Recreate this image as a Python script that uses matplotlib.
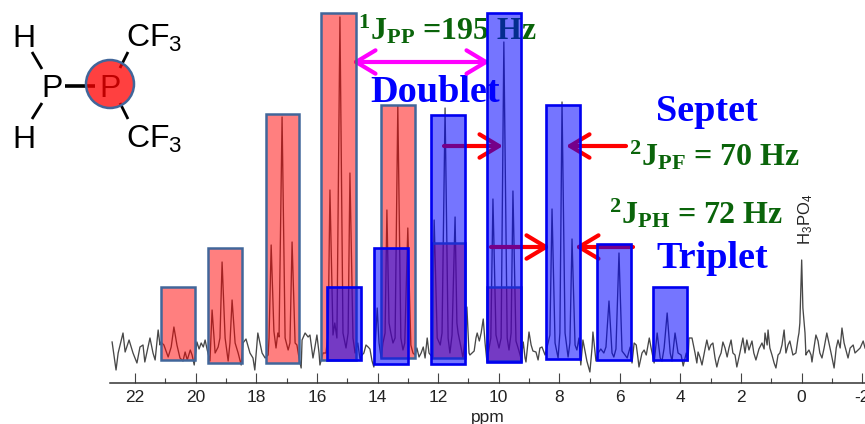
import matplotlib
matplotlib.use("Agg")
import matplotlib.pyplot as plt
from matplotlib.patches import Circle
from matplotlib.transforms import Affine2D
import numpy as np

plt.rcParams['font.family'] = 'Liberation Sans'
plt.rcParams['mathtext.fontset'] = 'custom'
plt.rcParams['mathtext.rm'] = 'Liberation Sans'
plt.rcParams['mathtext.bf'] = 'Liberation Serif:bold'
plt.rcParams['mathtext.default'] = 'rm'
plt.rcParams['axes.unicode_minus'] = False

# spectrum, shift in ppm, intensity above the axis line
shift = [22.76, 22.63, 22.56, 22.40, 22.33, 22.20, 22.07, 21.94, 21.84, 21.74, 21.68, 21.58, 21.51, 21.41, 21.34, 21.24, 21.18,
         21.15, 21.05, 20.91, 20.81, 20.72, 20.62, 20.52, 20.42, 20.35, 20.28, 20.18, 20.12, 20.05,
         19.96, 19.89, 19.82, 19.75, 19.69, 19.62,
         19.53, 19.46, 19.36, 19.26, 19.20, 19.13, 19.03, 18.93, 18.87, 18.80, 18.70, 18.60, 18.50,
         18.44, 18.34, 18.21, 18.11, 18.05, 17.95, 17.88, 17.81, 17.71,
         17.61, 17.58, 17.51, 17.42, 17.35, 17.29, 17.25, 17.15, 17.05, 16.95, 16.89, 16.82, 16.72, 16.66, 16.59, 16.52,
         16.49, 16.39, 16.29, 16.23, 16.13, 16.07, 16.00, 15.93, 15.90,
         15.80, 15.70, 15.63, 15.57, 15.47, 15.41, 15.34, 15.24, 15.14, 15.04, 14.97, 14.91, 14.81, 14.74, 14.65, 14.58, 14.51,
         14.45, 14.38, 14.31, 14.25, 14.18, 14.12,
         14.08, 14.01, 13.95, 13.88, 13.82, 13.75, 13.69, 13.62, 13.56, 13.49, 13.42, 13.33, 13.23, 13.16, 13.10, 13.00, 12.90, 12.83, 12.76,
         12.70, 12.63, 12.56, 12.49, 12.43, 12.36, 12.30,
         12.20, 12.13, 12.03, 11.93, 11.87, 11.77, 11.67, 11.61, 11.54, 11.44, 11.38, 11.34, 11.24, 11.18, 11.11, 11.05, 10.98,
         10.95, 10.88, 10.81, 10.75, 10.71, 10.64, 10.58, 10.51, 10.45, 10.39,
         10.29, 10.26, 10.19, 10.09, 9.99, 9.92, 9.83, 9.72, 9.66, 9.59, 9.53, 9.43, 9.33, 9.26,
         9.19, 9.13, 9.10, 9.00, 8.93, 8.87, 8.77, 8.70, 8.64, 8.57, 8.47,
         8.37, 8.31, 8.24, 8.14, 8.04, 7.98, 7.91, 7.81, 7.71, 7.65, 7.58, 7.48, 7.42, 7.35, 7.29,
         7.22, 7.15, 7.09, 6.99, 6.92, 6.89, 6.79,
         6.72, 6.63, 6.53, 6.46, 6.36, 6.26, 6.20, 6.13, 6.03, 5.93, 5.83, 5.76, 5.66, 5.60,
         5.53, 5.46, 5.40, 5.37, 5.27, 5.20, 5.13, 5.03, 4.97,
         4.87, 4.77, 4.67, 4.61, 4.54, 4.44, 4.34, 4.28, 4.18, 4.08, 3.98, 3.91, 3.81, 3.75,
         3.72, 3.62, 3.52, 3.46, 3.42, 3.36, 3.29, 3.19, 3.13, 3.06, 3.00, 2.93, 2.86, 2.80, 2.73, 2.66, 2.60, 2.53, 2.46, 2.40, 2.33, 2.27, 2.20, 2.14,
         2.04, 1.94, 1.87, 1.81, 1.74, 1.64, 1.58, 1.51, 1.41, 1.31, 1.24, 1.21, 1.14, 1.11, 1.05, 0.98, 0.91, 0.85, 0.78, 0.72, 0.65, 0.58, 0.52, 0.45, 0.39, 0.29, 0.19, 0.12, 0.09,
         0.06, 0.00, -0.04, -0.11, -0.14,
         -0.17, -0.24, -0.31, -0.34, -0.41, -0.47, -0.54, -0.60, -0.67, -0.74, -0.83, -0.90, -0.97, -1.07, -1.14, -1.20, -1.27, -1.33, -1.40, -1.47, -1.53, -1.60, -1.70, -1.76, -1.83, -1.93, -2.03, -2.09]
intensity = [41, 13, 30, 50, 31, 43, 30, 20, 36, 38, 21, 35, 45, 30, 23, 53, 38,
             41, 38, 26, 36, 56, 38, 25, 22, 31, 23, 33, 28, 18,
             41, 34, 40, 36, 43, 33,
             22, 73, 30, 36, 45, 121, 45, 22, 40, 83, 40, 30, 18,
             40, 44, 30, 25, 13, 50, 40, 30, 25,
             28, 45, 138, 52, 35, 50, 46, 266, 45, 33, 40, 141, 40, 38, 25, 15,
             43, 50, 46, 48, 25, 35, 48, 30, 18,
             30, 30, 50, 193, 48, 60, 45, 366, 50, 35, 50, 210, 45, 30, 40, 24, 28,
             30, 38, 36, 34, 22, 16,
             35, 75, 40, 25, 40, 50, 173, 60, 50, 40, 45, 277, 45, 33, 40, 155, 38, 30, 28,
             35, 26, 30, 36, 25, 45, 30,
             26, 163, 45, 38, 50, 275, 45, 30, 48, 166, 60, 50, 35, 25, 45, 76, 30,
             28, 30, 32, 45, 50, 42, 50, 64, 40, 22,
             40, 45, 184, 48, 35, 45, 341, 45, 33, 50, 192, 42, 32, 24,
             41, 25, 21, 51, 38, 32, 31, 23, 35, 36, 28,
             40, 48, 174, 40, 25, 50, 281, 50, 26, 40, 144, 38, 33, 45, 18,
             43, 32, 22, 11, 35, 51, 22,
             30, 34, 30, 36, 82, 30, 26, 34, 130, 32, 28, 25, 36, 20,
             40, 38, 24, 16, 30, 33, 28, 45, 35,
             20, 50, 25, 22, 35, 70, 30, 22, 50, 30, 28, 17, 30, 22,
             45, 45, 30, 20, 31, 26, 18, 34, 43, 33, 38, 40, 25, 16, 25, 30, 41, 35, 26, 35, 43, 30, 28, 16,
             30, 45, 30, 43, 33, 42, 30, 23, 34, 40, 34, 50, 38, 53, 35, 28, 20, 15, 28, 30, 38, 53, 30, 38, 42, 28, 30, 45, 50,
             60, 123, 75, 50, 28,
             30, 33, 28, 21, 36, 48, 42, 30, 25, 35, 50, 40, 30, 15, 35, 43, 35, 55, 40, 32, 25, 35, 38, 30, 32, 35, 42, 35]

# shaded boxes, ppm edges and intensity range
red_left = [21.15, 19.59, 17.68, 15.85, 13.88, 12.20, 10.39]
red_right = [20.02, 18.47, 16.59, 14.71, 12.76, 11.11, 9.26]
red_bottom = [23, 20, 20, 23, 25, 25, 22]
red_top = [96, 135, 269, 370, 278, 140, 96]

blue_left = [15.67, 14.12, 12.23, 10.39, 8.44, 6.76, 4.91]
blue_right = [14.54, 12.99, 11.11, 9.26, 7.32, 5.63, 3.79]
blue_bottom = [23, 19, 19, 21, 24, 23, 23]
blue_top = [96, 135, 268, 370, 278, 139, 96]

major_ticks = [22, 20, 18, 16, 14, 12, 10, 8, 6, 4, 2, 0, -2]
minor_ticks = [21, 19, 17, 15, 13, 11, 9, 7, 5, 3, 1, -1]
tick_labels = ['22', '20', '18', '16', '14', '12', '10', '8', '6', '4', '2', '0', '-2']

fig = plt.figure(figsize=(8.65, 4.24), dpi=100)
ax = fig.add_axes([0, 0, 1, 1])
ax.set_xlim(26.46, -2.09)
ax.set_ylim(-41, 383)
ax.patch.set_visible(False)

# pixel positions for the annotations, origin top left like the picture
px = Affine2D().scale(1, -1).translate(0, 424)

ax.plot(shift, intensity, color='#484848', linewidth=0.95, zorder=1)

ax.bar(red_left, np.array(red_top) - np.array(red_bottom), width=np.array(red_right) - np.array(red_left),
       bottom=red_bottom, align='edge', facecolor=(1, 0, 0, 0.5), edgecolor='#41669a', linewidth=1.8, zorder=3)
ax.bar(blue_left, np.array(blue_top) - np.array(blue_bottom), width=np.array(blue_right) - np.array(blue_left),
       bottom=blue_bottom, align='edge', facecolor=(0, 0, 1, 0.54), edgecolor='#0000f0', linewidth=1.9, zorder=4)

# axis
for name in ['top', 'left', 'right']:
    ax.spines[name].set_visible(False)
ax.spines['bottom'].set_position(('data', 0))
ax.spines['bottom'].set_bounds(-2.09, 22.83)
ax.spines['bottom'].set_color('#333333')
ax.spines['bottom'].set_linewidth(1.1)
ax.yaxis.set_visible(False)
ax.set_xticks(major_ticks)
ax.set_xticklabels(tick_labels, fontsize=12.5, color='#222222')
ax.set_xticks(minor_ticks, minor=True)
ax.tick_params(axis='x', which='major', direction='in', length=7.2, width=0.8, color='#444444', pad=5)
ax.tick_params(axis='x', which='minor', direction='in', length=3.6, width=0.8, color='#444444')
ax.set_xlabel('ppm', x=488 / 865, fontsize=12.5, color='#222222', labelpad=3.5)

# labels under the boxes
green = '#0a640a'
serif = dict(family='Liberation Serif', weight='bold', ha='left', va='baseline', transform=px, zorder=2)
ax.text(358, 40, r'$\mathbf{^{1}J_{PP}}$ =195 Hz', color=green, fontsize=23, **serif)
ax.text(629, 166, r'$\mathbf{^{2}J_{PF}}$ = 70 Hz', color=green, fontsize=23, **serif)
ax.text(609, 223, r'$\mathbf{^{2}J_{PH}}$ = 72 Hz', color=green, fontsize=23, **serif)
ax.text(370, 102, 'Doublet', color='#0000ff', fontsize=27.5, **serif)
ax.text(656, 121, 'Septet', color='#0000ff', fontsize=27.5, **serif)
ax.text(656, 268, 'Triplet', color='#0000ff', fontsize=27.5, **serif)
ax.text(806, 245, 'H$_3$PO$_4$', rotation=90, fontsize=12, color='#222222', ha='center', va='bottom', transform=px)

# arrows
head = '->,head_length=0.7,head_width=0.42'
ax.annotate('', xy=(490, 62), xytext=(352, 62), xycoords=px, textcoords=px, zorder=2,
            arrowprops=dict(arrowstyle='<->,head_length=0.7,head_width=0.42', color='#ff00ff', lw=3,
                            mutation_scale=20, shrinkA=0, shrinkB=0))
red_arrows = [(444, 146, 503), (626, 146, 566), (491, 247, 550), (633, 247, 575)]
for x0, y0, x1 in red_arrows:
    ax.annotate('', xy=(x1, y0), xytext=(x0, y0), xycoords=px, textcoords=px, zorder=2,
                arrowprops=dict(arrowstyle=head, color='#ff0000', lw=3, mutation_scale=20, shrinkA=0, shrinkB=0))

# molecule
for xs, ys, lw in [((32, 42), (52, 69), 2), ((42, 32), (103, 119), 2), ((65, 95), (86, 86), 2.6),
                   ((128, 120), (52, 68), 2), ((120, 128), (103, 119), 2)]:
    ax.plot(xs, ys, color='black', linewidth=lw, transform=px, zorder=5, solid_capstyle='butt')
sans = dict(fontsize=23, color='black', va='baseline', ha='left', transform=px, zorder=5)
ax.text(12, 47, 'H', **sans)
ax.text(41, 97, 'P', **sans)
ax.text(12, 148, 'H', **sans)
ax.text(99, 97, 'P', **sans)
ax.text(126, 47, 'CF$_3$', **sans)
ax.text(126, 148, 'CF$_3$', **sans)
ax.add_patch(Circle((110, 84), 24, transform=px, facecolor=(1, 0, 0, 0.75), edgecolor='#41669a',
                    linewidth=1.8, zorder=6))

fig.savefig('out.png', dpi=100)
